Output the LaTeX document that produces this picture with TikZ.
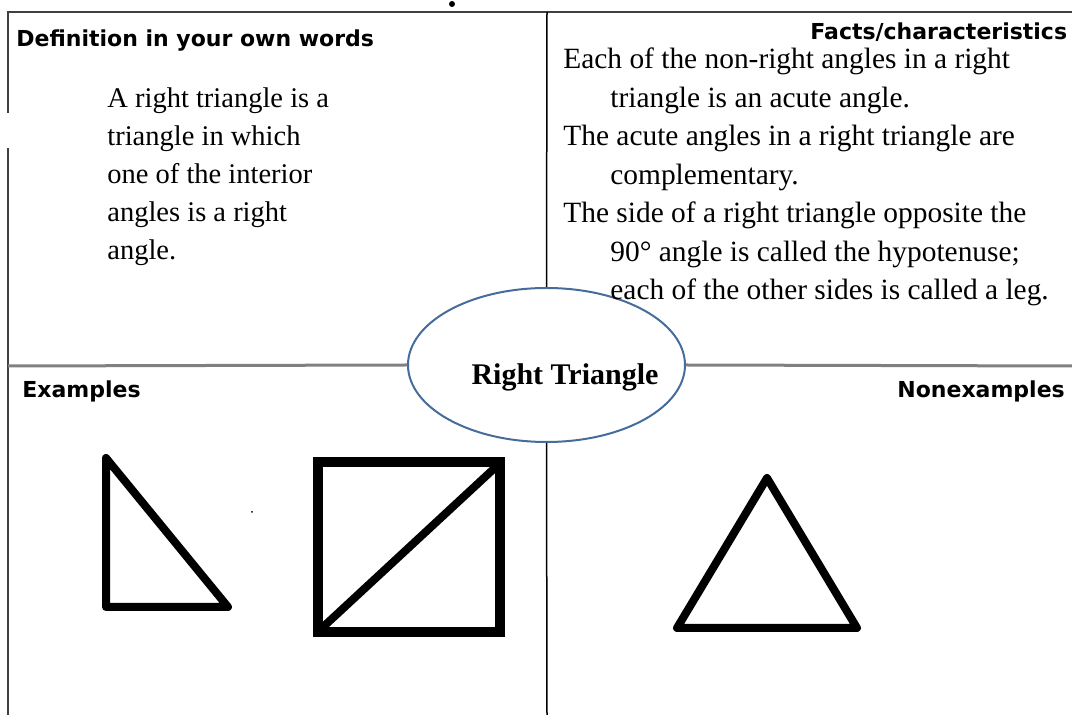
\documentclass[tikz,border=0pt]{standalone}
\usepackage{fontspec}
\setmainfont{Liberation Serif}
\newfontfamily\headfont{DejaVu Sans}
\usetikzlibrary{shapes.geometric, positioning}
\definecolor{topicblue}{RGB}{70,108,155}
\tikzset{
    frame/.style = {
        draw=black!75, line width=0.75pt
    },
    divider/.style = {
        draw=black!50, line width=1.5pt
    },
    heading/.style = {
        inner sep=0pt,
        font=\headfont\bfseries\fontsize{11}{13}\selectfont
    },
    body/.style = {
        inner sep=0pt, align=left, anchor=base west,
        font=\fontsize{14.25}{19}\selectfont
    },
    topic/.style = {
        ellipse, draw=topicblue, line width=1pt,
        minimum width=138.5pt,
        minimum height=77pt
    },
    sketch/.style = {
        line width=4pt, line join=round
    }
}
\begin{document}
\begin{tikzpicture}[x=0.5pt, y=-0.5pt]

\useasboundingbox (0,0) rectangle (1072,715);

\coordinate (tl) at (8,12);
\coordinate (tr) at (1072,12);
\coordinate (gapa) at (8,113);
\coordinate (gapb) at (8,148);
\coordinate (bl) at (8,715);
\coordinate (ntop) at (547,12);
\coordinate (nbot) at (547,715);
\coordinate (wmid) at (8,366);
\coordinate (emid) at (1072,366);

\node (topic) [topic] at (546.5,365) {};
\node (title) [inner sep=0pt, font=\bfseries\fontsize{15}{17}\selectfont] at (565,377) {Right Triangle};

\draw [frame] (gapa) -- (tl) -- (tr);
\draw [frame] (gapb) -- (bl);
\draw [frame, draw=black] (ntop) -- (topic.north);
\draw [frame, draw=black] (topic.south) -- (nbot);
\draw [divider] (wmid) -- (topic.west);
\draw [divider] (topic.east) -- (emid);

\node (defhead) [heading, anchor=base west] at (16,47) {Definition in your own words};
\node (facthead) [heading, anchor=base west] at (810,40) {Facts/characteristics};
\node (exhead) [heading, anchor=base west] at (22,398) {Examples};
\node (nonhead) [heading, anchor=base west] at (897,398) {Nonexamples};

\node (deftext) [body] at (107,260) {A right triangle is a\\ triangle in which\\ one of the interior\\ angles is a right\\ angle.};
\node (facttext) [body, font=\fontsize{14.7}{19.25}\selectfont] at (563,300) {Each of the non-right angles in a right\\
    \hspace*{23.5pt}triangle is an acute angle.\\
    The acute angles in a right triangle are\\
    \hspace*{23.5pt}complementary.\\
    The side of a right triangle opposite the\\
    \hspace*{23.5pt}90° angle is called the hypotenuse;\\
    \hspace*{23.5pt}each of the other sides is called a leg.};

\draw [sketch] (106,458) -- (106,607) -- (228,607) -- cycle;
\draw [sketch, line width=5pt, line join=miter] (317.5,462) rectangle (499.5,632);
\draw [sketch] (322,628) -- (499,464);
\draw [sketch] (767,478) -- (677,628) -- (857,628) -- cycle;

\fill (452,4) circle (3);
\fill (252,512) circle (1);

\end{tikzpicture}
\end{document}
